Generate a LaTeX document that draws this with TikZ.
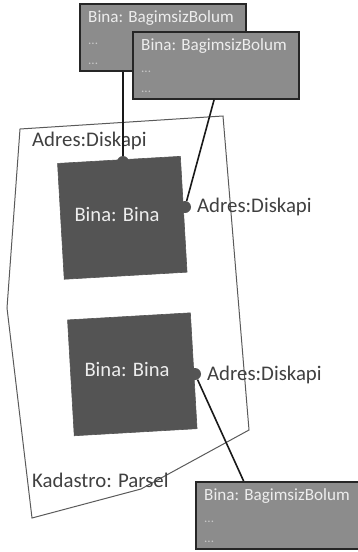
\documentclass[tikz,border=0pt]{standalone}
\usepackage{fontspec}
\setmainfont{Carlito}
\usetikzlibrary{calc}

\definecolor{boxfill}{HTML}{8C8C8C}
\definecolor{boxtext}{HTML}{EDEDED}
\definecolor{dotstext}{HTML}{C8C8C8}
\definecolor{dark}{HTML}{545454}
\definecolor{labeltext}{HTML}{404040}
\definecolor{outline}{HTML}{5A5A5A}

% an independent unit box: name, top-left x, top-left y
\newcommand\bolumbox[3]{%
  \node[unitbox] (#1) at (#2,#3) {};
  \node[unittitle] (#1-title) at ($(#1.north west)+(9,19)$) {Bina: BagimsizBolum};
  \node[unitdots] (#1-a) at ($(#1.north west)+(9,41)$) {...};
  \node[unitdots] (#1-b) at ($(#1.north west)+(9,61)$) {...};
}

\begin{document}
\begin{tikzpicture}[x=1pt,y=-1pt,
  parcel/.style={draw=outline, line width=1pt, line join=miter},
  building/.style={fill=dark, draw=dark, line width=0.6pt, minimum width=123pt,
    minimum height=116pt, inner sep=0pt, rotate=3.3},
  buildtext/.style={text=boxtext, font=\fontsize{20.6}{24}\selectfont, anchor=base, inner sep=0pt},
  door/.style={circle, fill=dark, minimum size=12pt, inner sep=0pt},
  plainlabel/.style={text=labeltext, font=\fontsize{20.8}{24}\selectfont, anchor=base west, inner sep=0pt},
  unitbox/.style={fill=boxfill, draw=black!85, line width=1.6pt, minimum width=166pt,
    minimum height=67pt, anchor=north west, inner sep=0pt},
  unittitle/.style={text=boxtext, font=\fontsize{17.1}{20}\selectfont, anchor=base west, inner sep=0pt},
  unitdots/.style={text=dotstext, font=\fontsize{13}{16}\selectfont, anchor=base west, inner sep=0pt},
  link/.style={draw=black!90, line width=1.6pt}
]
\useasboundingbox (0,0) rectangle (357,552);

% cadastral parcel outline
\draw[parcel] (20,129) -- (223,116) -- (249,430) -- (141,489) -- (32,518) -- (7,308) -- cycle;
\node[plainlabel] (parcel) at (32,487) {Kadastro: Parsel};

% buildings
\node[building] (bina1) at (122.3,217.8) {};
\node[buildtext] (bina1-text) at (117,221) {Bina: Bina};
\node[building] (bina2) at (132.3,374.3) {};
\node[buildtext] (bina2-text) at (127,376) {Bina: Bina};

% door addresses
\node[door] (door1) at (123,162) {};
\node[door] (door2) at (185,207) {};
\node[door] (door3) at (195,374) {};
\node[plainlabel] (door1-label) at (32,146) {Adres:Diskapi};
\node[plainlabel] (door2-label) at (197,212) {Adres:Diskapi};
\node[plainlabel] (door3-label) at (207,380) {Adres:Diskapi};

% independent units
\bolumbox{b1}{79}{3}
\bolumbox{b2}{132}{31}
\bolumbox{b3}{195}{481}

% links from units to door addresses
\draw[link] (door1) -- (door1 |- b1.south);
\draw[link] (door2) -- ($(b2.south west)!0.49!(b2.south east)$);
\draw[link] (door3) -- ($(b3.north west)!0.29!(b3.north east)$);
\end{tikzpicture}
\end{document}
